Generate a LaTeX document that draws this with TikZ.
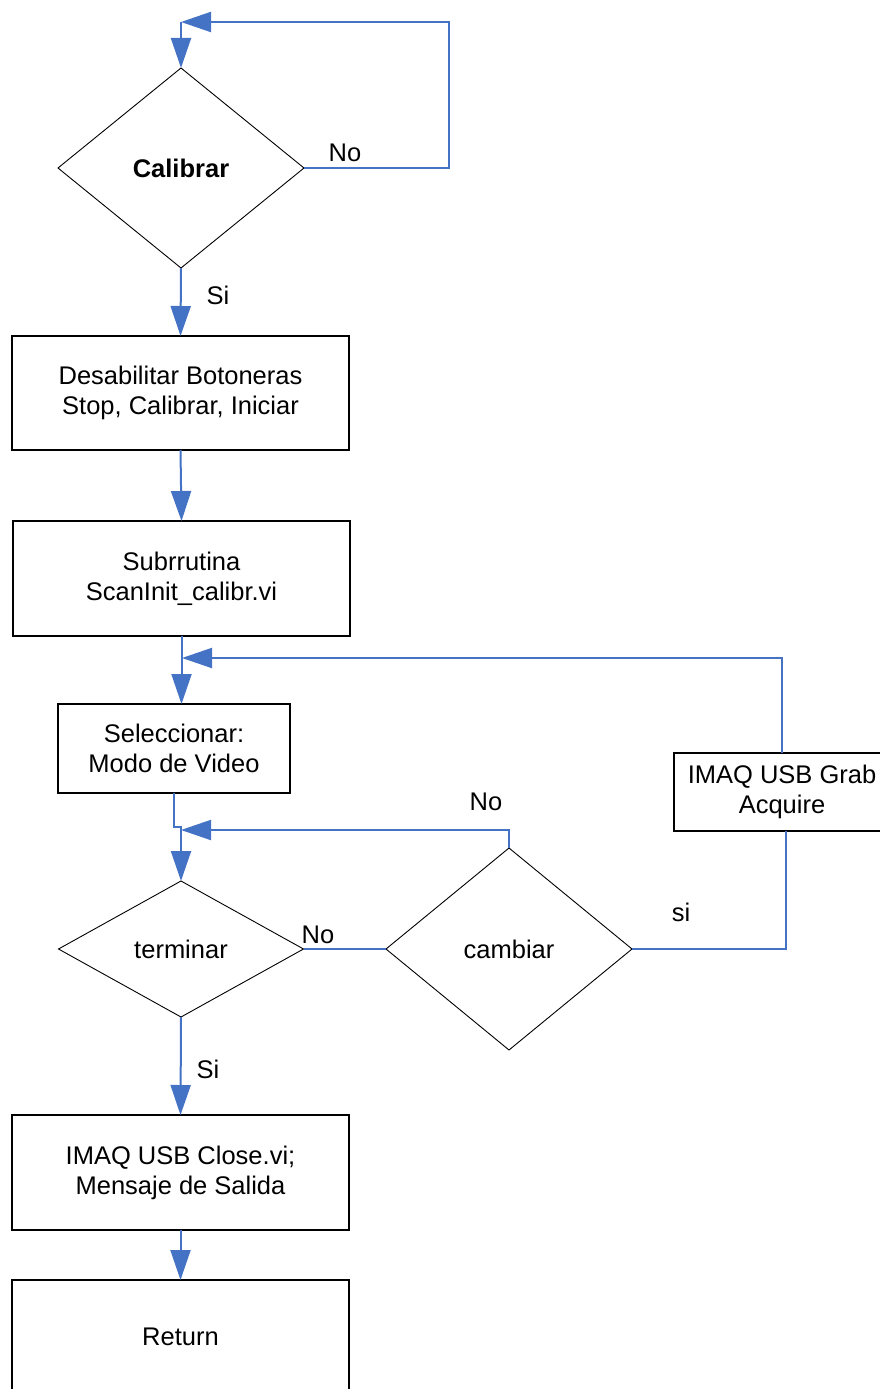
\documentclass[tikz,border=0pt]{standalone}
\usepackage{fontspec}
\setmainfont{Liberation Sans}
\usetikzlibrary{arrows.meta,shapes.geometric}
\definecolor{flowblue}{HTML}{4472C4}
\begin{document}
\begin{tikzpicture}[x=1pt,y=-1pt,
  every node/.style={font=\fontsize{25.5}{30}\selectfont},
  procbox/.style={draw=black, line width=1.3pt, rectangle, align=center, inner sep=0pt, outer sep=0pt},
  decide/.style={draw=black, line width=0.9pt, diamond, inner sep=0pt, outer sep=0pt, align=center},
  flow/.style={draw=flowblue, line width=2pt},
  flowarrow/.style={flow, -{Triangle[length=30pt,width=20pt]}},
  lbl/.style={inner sep=0pt}]
\useasboundingbox (0,0) rectangle (880,1389);
\clip (0,0) rectangle (880,1389);

% decisions
\node[decide, minimum width=246pt, minimum height=200pt] (cal) at (181,168) {\bfseries Calibrar};
\node[decide, minimum width=245pt, minimum height=136pt] (term) at (181,949) {terminar};
\node[decide, minimum width=246pt, minimum height=202pt] (camb) at (509,949) {cambiar};

% process boxes
\node[procbox, minimum width=337pt, minimum height=114pt] (b1) at (180.5,393) {Desabilitar Botoneras\\Stop, Calibrar, Iniciar};
\node[procbox, minimum width=337pt, minimum height=115pt] (b2) at (181.5,578.5) {Subrrutina\\ScanInit\_calibr.vi};
\node[procbox, minimum width=232pt, minimum height=89pt] (b3) at (174,748.5) {Seleccionar:\\Modo de Video};
\node[procbox, minimum width=216pt, minimum height=78pt] (grab) at (782,792) {IMAQ USB Grab\\Acquire};
\node[procbox, minimum width=337pt, minimum height=115pt] (b5) at (180.5,1172.5) {IMAQ USB Close.vi;\\Mensaje de Salida};
\node[procbox, minimum width=337pt, minimum height=114pt] (ret) at (180.5,1337) {Return};

% junction points
\coordinate (loopR) at (449,22);
\coordinate (loopL) at (181,22);
\coordinate (j1) at (182,658);
\coordinate (j2) at (181,830);

% connectors
\draw[flowarrow] (cal.east) -| (loopR) -- (loopL);
\draw[flowarrow] (loopL) -- (cal.north);
\draw[flowarrow] (cal.south) -- (b1.north);
\draw[flowarrow] (b1.south) -- (b2.north);
\draw[flowarrow] (b2.south) -- (b2.south |- b3.north);
\draw[flowarrow] (grab.north) |- (j1);
\draw[flowarrow] (b3.south) -- ++(0,34) -| (term.north);
\draw[flowarrow] (camb.north) |- (j2);
\draw[flow] (term.east) -- (camb.west);
\draw[flow] (camb.east) -| ([xshift=4pt]grab.south);
\draw[flowarrow] (term.south) -- (b5.north);
\draw[flowarrow] (b5.south) -- (ret.north);

% branch labels
\node[lbl] (lno1) at (345,153) {No};
\node[lbl] (lsi1) at (218,295) {Si};
\node[lbl] (lno2) at (486,802) {No};
\node[lbl] (lno3) at (318,935) {No};
\node[lbl] (lsi2) at (681,912) {si};
\node[lbl] (lsi3) at (208,1069) {Si};
\end{tikzpicture}
\end{document}
